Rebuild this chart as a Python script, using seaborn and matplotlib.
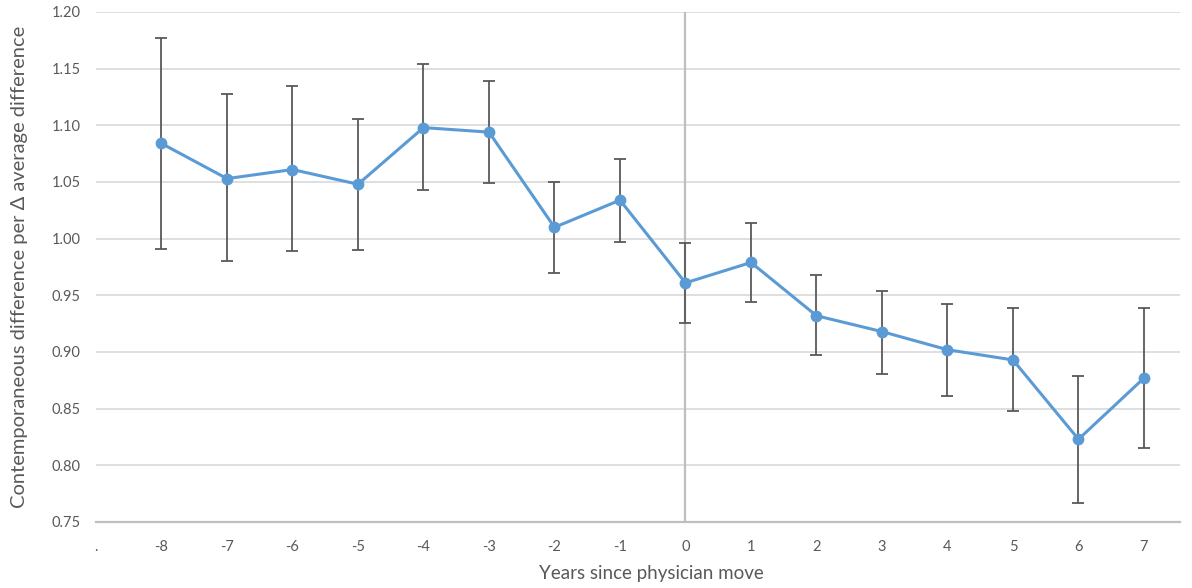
import matplotlib
matplotlib.use("Agg")
import matplotlib.pyplot as plt
import seaborn as sns
import pandas as pd

# Values
years = [-8, -7, -6, -5, -4, -3, -2, -1, 0, 1, 2, 3, 4, 5, 6, 7]
estimate = [1.084, 1.053, 1.061, 1.048, 1.098, 1.094, 1.010, 1.034,
            0.961, 0.979, 0.932, 0.918, 0.902, 0.893, 0.823, 0.877]
upper = [1.177, 1.128, 1.135, 1.106, 1.154, 1.139, 1.050, 1.070,
         0.996, 1.014, 0.968, 0.954, 0.942, 0.939, 0.879, 0.939]
lower = [0.991, 0.980, 0.989, 0.990, 1.043, 1.049, 0.970, 0.997,
         0.926, 0.944, 0.897, 0.881, 0.861, 0.848, 0.767, 0.815]
x_ticks = [-9] + years
x_labels = ["."] + [str(y) for y in years]
y_ticks = [0.75, 0.80, 0.85, 0.90, 0.95, 1.00, 1.05, 1.10, 1.15, 1.20]

df = pd.DataFrame({"year": years, "est": estimate, "lo": lower, "hi": upper})

sns.set_style("white")
plt.rcParams["font.family"] = ["Lato", "DejaVu Sans"]

fig = plt.figure(figsize=(11.92, 5.88), dpi=100)
ax = fig.add_axes([96 / 1192, 1 - 522 / 588, (1180 - 96) / 1192, (522 - 12) / 588])

txt = "#595959"
for y in y_ticks:
    ax.axhline(y, color="#D9D9D9", lw=1.2, zorder=0)
ax.axvline(0, color="#BFBFBF", lw=1.6, zorder=1)

# error bars behind the line
ax.errorbar(df["year"], df["est"],
            yerr=[df["est"] - df["lo"], df["hi"] - df["est"]],
            fmt="none", ecolor="#595959", elinewidth=1.3, capsize=4,
            capthick=1.3, zorder=2)

sns.lineplot(data=df, x="year", y="est", ax=ax, color="#5B9BD5",
             linewidth=2.2, marker="o", markersize=8.5, markeredgewidth=0,
             zorder=3)

ax.set_xlim(-9, 7.55)
ax.set_ylim(0.75, 1.20)
ax.set_xticks(x_ticks)
ax.set_xticklabels(x_labels)
ax.set_yticks(y_ticks)
ax.set_yticklabels([f"{v:.2f}" for v in y_ticks])
ax.tick_params(axis="x", length=0, pad=13, labelsize=10.5, labelcolor=txt)
ax.tick_params(axis="y", length=0, pad=11, labelsize=10.5, labelcolor=txt)

for s in ["left", "right", "top"]:
    ax.spines[s].set_visible(False)
ax.spines["bottom"].set_color("#BFBFBF")
ax.spines["bottom"].set_linewidth(1.6)
ax.spines["bottom"].set_zorder(1)

ax.set_xlabel("Years since physician move", fontsize=13.5, color=txt)
ax.set_ylabel("Contemporaneous difference per \u0394 average difference",
              fontsize=14.5, color=txt)
ax.xaxis.set_label_coords((651 - 96) / (1180 - 96), -43 / 510)
ax.yaxis.set_label_coords(-68 / 1084, 0.5)

fig.savefig("out.png", dpi=100)
